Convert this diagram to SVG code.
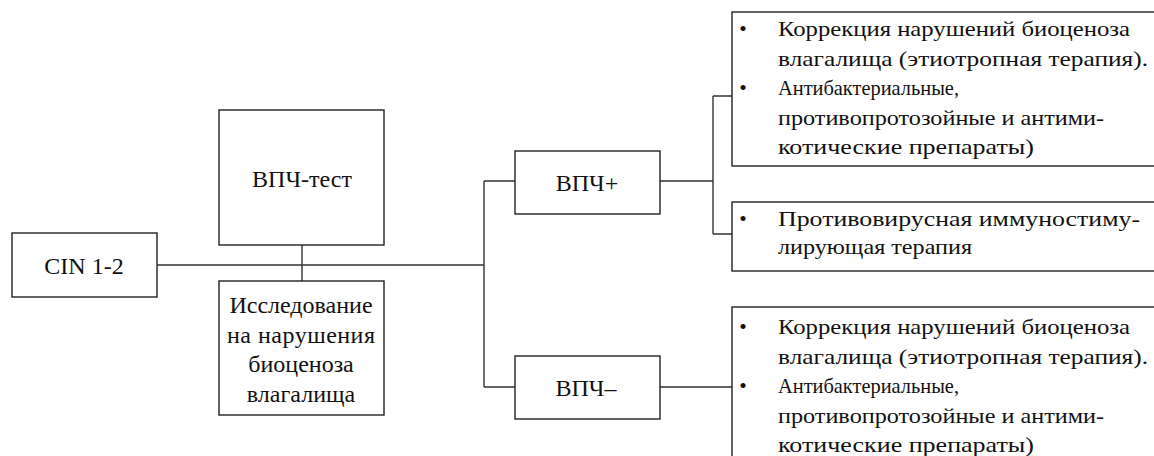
<svg xmlns="http://www.w3.org/2000/svg" width="1154" height="456" viewBox="0 0 1154 456">
<style>
.box{fill:#fff;stroke:#222;stroke-width:1.4}
.con{fill:none;stroke:#333;stroke-width:1.4}
.lbl{font-size:24px;fill:#111;text-anchor:middle}
.lst{font-size:21.5px;fill:#111}
.bul{font-size:21.5px;fill:#111;text-anchor:middle}
</style>
<rect width="1154" height="456" fill="#fff"/>
<g id="connectors">
<path class="con" d="M157 265H484M302 245V281M484 181V387M484 181H515M484 387H515M660 181H713M713 96V234M713 96H732M713 234H732M660 387H732"/>
</g>
<g font-family="Liberation Serif, Times New Roman, DejaVu Serif, serif">
<g id="cin">
<rect class="box" x="12" y="233" width="145" height="64"/>
<text class="lbl" x="84" y="274">CIN 1-2</text>
</g>
<g id="vpch-test">
<rect class="box" x="219" y="110" width="165" height="135"/>
<text class="lbl" x="302" y="187">ВПЧ-тест</text>
</g>
<g id="issledovanie">
<rect class="box" x="219" y="281" width="165" height="134"/>
<text class="lbl" x="301" y="313">Исследование</text>
<text class="lbl" x="301" y="342.5" textLength="148" lengthAdjust="spacing">на  нарушения</text>
<text class="lbl" x="301" y="372">биоценоза</text>
<text class="lbl" x="301" y="401.5">влагалища</text>
</g>
<g id="vpch-plus">
<rect class="box" x="515" y="151" width="145" height="63"/>
<text class="lbl" x="587" y="191">ВПЧ+</text>
</g>
<g id="vpch-minus">
<rect class="box" x="515" y="356" width="145" height="63"/>
<text class="lbl" x="586" y="396">ВПЧ–</text>
</g>
<g id="therapy-plus-1">
<rect class="box" x="732" y="12" width="440" height="154"/>
<text class="bul" x="743" y="36">•</text>
<text class="bul" x="743" y="95">•</text>
<text class="lst" x="778" y="36" textLength="352" lengthAdjust="spacingAndGlyphs">Коррекция нарушений биоценоза</text>
<text class="lst" x="778" y="65.5" textLength="370" lengthAdjust="spacingAndGlyphs">влагалища (этиотропная терапия).</text>
<text class="lst" x="778" y="95" textLength="181" lengthAdjust="spacingAndGlyphs">Антибактериальные,</text>
<text class="lst" x="778" y="124.5" textLength="326" lengthAdjust="spacingAndGlyphs">противопротозойные и антими-</text>
<text class="lst" x="778" y="154" textLength="256" lengthAdjust="spacingAndGlyphs">котические препараты)</text>
</g>
<g id="therapy-plus-2">
<rect class="box" x="732" y="202" width="440" height="69"/>
<text class="bul" x="743" y="226">•</text>
<text class="lst" x="778" y="226" textLength="362" lengthAdjust="spacingAndGlyphs">Противовирусная иммуностиму-</text>
<text class="lst" x="778" y="254" textLength="194" lengthAdjust="spacingAndGlyphs">лирующая терапия</text>
</g>
<g id="therapy-minus">
<rect class="box" x="732" y="307" width="440" height="170"/>
<text class="bul" x="743" y="334">•</text>
<text class="bul" x="743" y="393">•</text>
<text class="lst" x="778" y="334" textLength="352" lengthAdjust="spacingAndGlyphs">Коррекция нарушений биоценоза</text>
<text class="lst" x="778" y="363.5" textLength="370" lengthAdjust="spacingAndGlyphs">влагалища (этиотропная терапия).</text>
<text class="lst" x="778" y="393" textLength="181" lengthAdjust="spacingAndGlyphs">Антибактериальные,</text>
<text class="lst" x="778" y="422.5" textLength="326" lengthAdjust="spacingAndGlyphs">противопротозойные и антими-</text>
<text class="lst" x="778" y="452" textLength="256" lengthAdjust="spacingAndGlyphs">котические препараты)</text>
</g>
</g>
</svg>
